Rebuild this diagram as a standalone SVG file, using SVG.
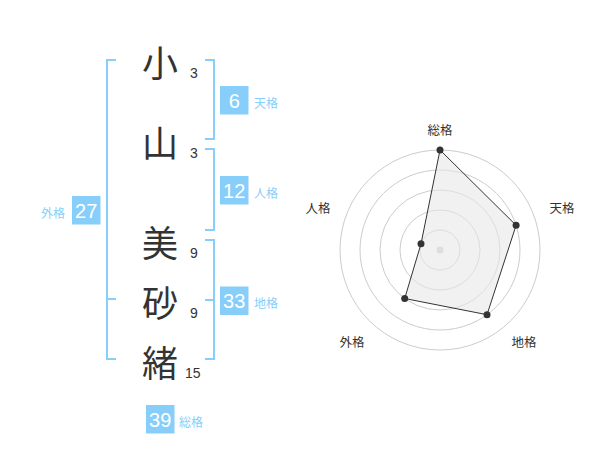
<svg xmlns="http://www.w3.org/2000/svg" width="600" height="470" viewBox="0 0 600 470">
<style>
.ch{font-family:"Noto Sans CJK JP","Noto Sans CJK SC",sans-serif;font-size:36px;fill:#333;text-anchor:middle}
.num{font-family:"Liberation Sans","Noto Sans CJK JP",sans-serif;font-size:14px;fill:#333}
.br{fill:none;stroke:#87cefa;stroke-width:2}
.box{fill:#87cefa}
.bt{font-family:"Liberation Sans","Noto Sans CJK JP",sans-serif;font-size:20px;fill:#fff;text-anchor:middle}
.lb{font-family:"Noto Sans CJK JP","Noto Sans CJK SC",sans-serif;font-size:12px;fill:#87cefa}
.rl{font-family:"Noto Sans CJK JP","Noto Sans CJK SC",sans-serif;font-size:12.5px;fill:#333;text-anchor:middle}
.ring{fill:none;stroke:#ccc;stroke-width:1}
.pt{fill:#333}
</style>
<rect width="600" height="470" fill="#fff"/>
<g id="chars">
<text class="ch" x="160" y="76.5">小</text><text class="num" x="190" y="78">3</text>
<text class="ch" x="160" y="156.5">山</text><text class="num" x="190" y="158">3</text>
<text class="ch" x="160" y="256.5">美</text><text class="num" x="190" y="258">9</text>
<text class="ch" x="160" y="316.5">砂</text><text class="num" x="190" y="318">9</text>
<text class="ch" x="160" y="376.5">緒</text><text class="num" x="185" y="378">15</text>
</g>
<g id="connectors">
<path class="br" d="M116,60 H107 V359 H116 M107,299 H116"/>
<path class="br" d="M205,60 H214 V139 H205"/>
<path class="br" d="M205,149 H214 V230 H205"/>
<path class="br" d="M205,240 H214 V359 H205 M205,300 H214"/>
</g>
<g id="tenkaku"><rect class="box" x="220" y="86" width="28.5" height="28.5"/><text class="bt" x="234.2" y="107.5">6</text><text class="lb" x="254" y="108">天格</text></g>
<g id="jinkaku"><rect class="box" x="220" y="176" width="28.5" height="28.5"/><text class="bt" x="234.2" y="197.5">12</text><text class="lb" x="254" y="198">人格</text></g>
<g id="chikaku"><rect class="box" x="220" y="286.5" width="28.5" height="28.5"/><text class="bt" x="234.2" y="308">33</text><text class="lb" x="254" y="308">地格</text></g>
<g id="gaikaku"><rect class="box" x="72" y="196" width="28.5" height="28.5"/><text class="bt" x="86.2" y="217.5">27</text><text class="lb" x="41" y="218">外格</text></g>
<g id="soukaku"><rect class="box" x="146" y="405" width="28.5" height="28.5"/><text class="bt" x="160.2" y="426.5">39</text><text class="lb" x="179" y="427">総格</text></g>
<g id="radar">
<circle class="ring" cx="440" cy="250" r="20"/>
<circle class="ring" cx="440" cy="250" r="40"/>
<circle class="ring" cx="440" cy="250" r="60"/>
<circle class="ring" cx="440" cy="250" r="80"/>
<circle class="ring" cx="440" cy="250" r="100"/>
<circle cx="440" cy="250" r="3.5" fill="#ccc"/>
<polygon points="440,150 516.1,225.3 487,314.7 404.7,298.5 421,243.8" fill="#e8e8e8" fill-opacity="0.6" stroke="#333" stroke-width="1"/>
<circle class="pt" cx="440" cy="150" r="3.5"/>
<circle class="pt" cx="516.1" cy="225.3" r="3.5"/>
<circle class="pt" cx="487" cy="314.7" r="3.5"/>
<circle class="pt" cx="404.7" cy="298.5" r="3.5"/>
<circle class="pt" cx="421" cy="243.8" r="3.5"/>
<text class="rl" x="440" y="135">総格</text>
<text class="rl" x="562" y="213">天格</text>
<text class="rl" x="318" y="213">人格</text>
<text class="rl" x="352" y="347">外格</text>
<text class="rl" x="524" y="347">地格</text>
</g>
</svg>
